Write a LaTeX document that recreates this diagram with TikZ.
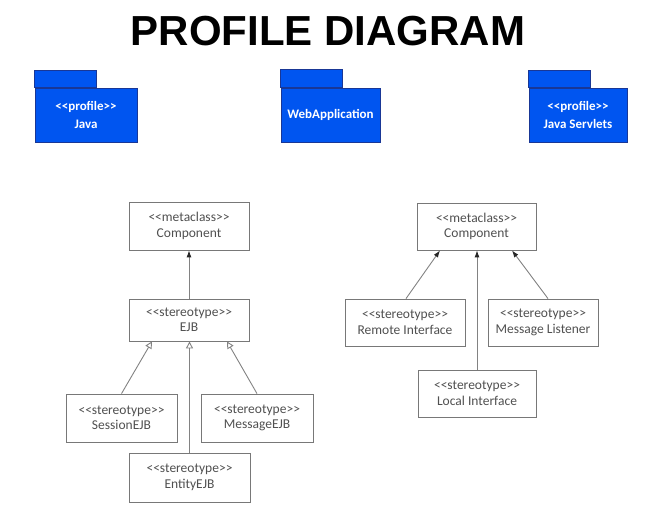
\documentclass[tikz,border=0pt]{standalone}
\usepackage{fontspec}
\setmainfont{Carlito}[Ligatures=TeXOff]
\newfontfamily\titlefont{Liberation Sans}
\usetikzlibrary{arrows.meta}
\definecolor{pkgblue}{RGB}{0,85,240}
\definecolor{pkgedge}{RGB}{25,55,150}
\definecolor{boxedge}{RGB}{120,120,120}
\definecolor{boxtext}{RGB}{80,80,80}
\definecolor{linegray}{RGB}{130,130,130}
\tikzset{
  pkg/.style={draw=pkgedge, fill=pkgblue, line width=0.8pt, text=white, font=\fontsize{13}{17.5}\selectfont\bfseries, align=center, minimum width=102pt, minimum height=54pt, inner sep=0pt},
  pkgtab/.style={draw=pkgedge, fill=pkgblue, line width=0.8pt},
  umlbox/.style={draw=boxedge, fill=white, line width=0.8pt, text=boxtext, font=\fontsize{13.5}{15.5}\selectfont, align=center, inner sep=0pt},
  conn/.style={draw=linegray, line width=0.9pt},
  ext/.style={conn, -{Latex[length=7pt,width=5pt,color=black!85]}},
  gen/.style={conn, -{Triangle[open,length=7pt,width=7pt,fill=white]}}
}
\begin{document}
\begin{tikzpicture}[x=1pt,y=-1pt]
\useasboundingbox (0,0) rectangle (664,506);
\node[font=\titlefont\bfseries\fontsize{42}{46}\selectfont] (title) at (328,31) {PROFILE DIAGRAM};

% packages
\node[pkg] (java) at (86,115) {<<profile>>\\Java};
\draw[pkgtab] (java.north west) rectangle ++(62,-17);
\node[pkg, minimum width=99pt] (web) at (330.5,115) {WebApplication};
\draw[pkgtab] (web.north west) rectangle ++(62,-18);
\node[pkg, minimum width=98pt] (serv) at (578,115) {<<profile>>\\Java Servlets};
\draw[pkgtab] (serv.north west) rectangle ++(62,-17);

% left profile
\node[umlbox, minimum width=120pt, minimum height=48pt] (comp1) at (189,226) {<<metaclass>>\\Component};
\node[umlbox, minimum width=120pt, minimum height=42pt] (ejb) at (189,320) {<<stereotype>>\\EJB};
\node[umlbox, minimum width=111pt, minimum height=48pt] (sess) at (121.5,418) {<<stereotype>>\\SessionEJB};
\node[umlbox, minimum width=112pt, minimum height=48pt] (mejb) at (257,418) {<<stereotype>>\\MessageEJB};
\node[umlbox, minimum width=121pt, minimum height=49pt] (ent) at (189.5,477.5) {<<stereotype>>\\EntityEJB};

\draw[ext] (ejb.north) -- (comp1.south);
\draw[gen] (sess.north) -- ([xshift=-37pt]ejb.south);
\draw[gen] (ent.north) -- ([xshift=0.5pt]ejb.south);
\draw[gen] (mejb.north) -- ([xshift=38pt]ejb.south);

% right profile
\node[umlbox, minimum width=119pt, minimum height=47pt] (comp2) at (476.5,226.5) {<<metaclass>>\\Component};
\node[umlbox, minimum width=120pt, minimum height=47pt] (rem) at (405,322.5) {<<stereotype>>\\Remote Interface};
\node[umlbox, minimum width=110pt, minimum height=47pt] (lis) at (543,322.5) {<<stereotype>>\\Message Listener};
\node[umlbox, minimum width=118pt, minimum height=47pt] (loc) at (477,393.5) {<<stereotype>>\\Local Interface};

\draw[ext] ([xshift=1pt]rem.north) -- ([xshift=-36.5pt]comp2.south);
\draw[ext] (loc.north) -- ([xshift=0.5pt]comp2.south);
\draw[ext] ([xshift=5pt]lis.north) -- ([xshift=35.5pt]comp2.south);
\end{tikzpicture}
\end{document}
